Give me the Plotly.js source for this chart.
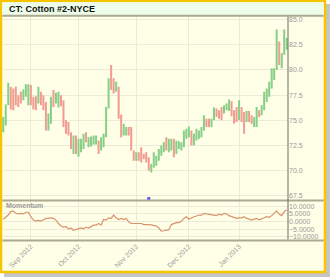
<!DOCTYPE html>
<html><head><meta charset="utf-8">
<script src="https://cdn.plot.ly/plotly-3.0.1.min.js"></script>
<style>html,body{margin:0;padding:0;background:#fff;}#chart{width:333px;height:280px;}</style>
</head><body><div id="chart"></div>
<script>
// Trading days per month
const aug2012 = [17,20,21,22,23,24,27,28,29,30,31];
const sep2012 = [4,5,6,7,10,11,12,13,14,17,18,19,20,21,24,25,26,27,28];
const oct2012 = [1,2,3,4,5,8,9,10,11,12,15,16,17,18,19,22,23,24,25,26,29,30,31];
const nov2012 = [1,2,5,6,7,8,9,12,13,14,15,16,19,20,21,23,26,27,28,29,30];
const dec2012 = [3,4,5,6,7,10,11,12,13,14,17,18,19,20,21,24,26,27,28,31];
const jan2013 = [2,3,4,7,8,9,10,11,14,15,16,17,18,22,23,24,25,28,29,30];

const openP = [73.9,74.7,76.6,78.2,78.0,78.2,77.4,77.7,77.1,77.5,76.8,78.3,77.2,77.3,76.8,77.7,77.4,76.7,74.2,74.8,
77.8,76.8,76.4,77.4,76.9,74.9,74.7,73.7,71.8,73.4,71.5,72.0,72.3,73.7,72.4,72.5,72.7,72.7,72.9,72.1,
72.4,73.5,76.3,80.3,79.0,77.9,78.2,75.4,73.6,73.6,74.2,74.2,71.9,71.1,71.7,72.2,71.6,71.7,71.2,69.9,
70.4,70.6,71.1,71.6,71.9,73.2,71.9,72.1,73.0,71.8,72.2,72.1,72.4,73.2,73.4,73.9,72.6,73.1,73.2,73.4,
74.1,75.1,75.1,74.4,75.1,76.1,75.9,76.2,75.7,76.1,76.0,76.8,75.9,76.2,75.1,76.2,75.7,74.9,75.8,75.4,
74.4,74.5,75.9,75.6,76.1,76.9,77.4,78.3,79.1,80.2,82.7,80.3,81.6,82.1];
const highP = [75.33,76.57,78.73,78.33,78.17,78.33,77.5,77.83,78.07,78.57,78.57,78.5,77.33,77.4,78.33,77.83,77.5,76.83,75.67,77.33,
78.0,77.73,77.83,77.5,77.0,75.0,74.83,73.83,73.5,73.5,73.17,73.17,73.67,73.83,73.33,73.4,73.5,73.5,73.0,73.33,
73.67,76.33,79.17,80.5,79.17,78.83,78.33,75.57,74.67,74.33,74.33,74.33,72.0,71.83,71.83,72.33,71.67,71.83,71.33,70.67,
71.83,71.5,72.17,72.5,72.83,73.33,73.17,73.17,73.17,73.0,72.93,72.83,74.0,74.17,74.4,74.0,73.67,74.17,74.0,74.33,
75.5,75.17,75.17,75.17,76.27,76.17,76.0,76.33,76.5,76.67,77.07,76.9,76.0,76.33,77.0,76.33,75.83,75.93,75.93,75.5,
75.33,76.33,76.0,76.5,77.83,78.17,78.83,80.17,80.17,84.0,82.83,81.67,84.0,83.17];
const lowP = [73.83,74.5,76.5,76.07,76.0,76.5,76.33,76.67,77.0,77.33,76.5,76.5,76.07,76.0,76.67,76.5,76.0,74.0,74.0,74.67,
76.33,76.67,76.27,76.4,74.33,73.67,73.5,72.17,71.67,71.67,71.4,71.83,72.17,72.83,72.33,72.4,72.6,72.6,71.67,72.0,
72.33,73.33,76.17,78.0,77.67,77.83,75.17,73.33,73.5,73.5,73.5,72.0,71.0,71.0,71.0,70.83,71.17,70.83,70.0,69.83,
70.33,70.5,71.0,71.5,71.83,72.0,71.83,72.0,71.33,71.67,72.17,72.0,72.33,73.17,73.33,72.5,72.5,73.0,73.17,73.33,
74.0,74.33,74.33,74.33,75.0,75.33,75.17,75.0,75.67,76.0,75.93,75.4,74.67,74.83,75.0,74.83,73.67,74.83,74.83,74.67,
74.33,74.33,75.33,75.5,76.0,76.83,77.33,78.17,79.0,80.0,80.5,80.17,81.5,82.0];
const closeP = [75.2,76.4,78.5,76.3,76.2,76.7,76.5,76.8,77.9,78.4,78.4,76.7,76.2,76.2,78.1,76.7,76.2,74.2,75.5,77.1,
76.5,77.6,77.6,76.5,74.5,73.8,73.6,72.3,73.3,71.8,73.0,73.0,73.5,72.9,73.2,73.3,73.4,73.4,71.8,73.2,
73.5,76.1,79.0,78.2,77.8,78.7,75.3,73.5,74.5,74.2,73.6,72.1,71.1,71.7,71.1,71.0,71.2,70.9,70.1,70.6,
71.7,71.4,72.0,72.4,72.7,72.1,73.0,73.0,71.5,72.9,72.8,72.7,73.9,74.0,74.3,72.6,73.5,74.0,73.9,74.2,
75.3,74.4,74.4,75.1,76.1,75.4,75.3,75.1,76.4,76.6,76.9,75.5,74.8,74.9,76.8,74.9,73.8,75.8,74.9,74.7,
75.2,76.1,75.4,76.4,77.7,78.0,78.7,80.0,80.0,83.8,80.6,81.5,83.8,83.0];
const momentum = [1.5,3.0,4.2,6.4,6.9,5.3,4.9,5.3,4.9,6.0,6.0,3.1,0.9,0.2,0.7,0.2,1.1,2.0,2.0,2.4,
2.0,0.9,-1.3,-2.9,-3.6,-3.3,-4.7,-4.2,-5.8,-5.3,-4.7,-4.2,-4.7,-3.6,-4.2,-3.1,-2.4,-2.4,-1.3,-2.4,
1.3,0.9,2.4,2.0,4.2,2.4,1.3,2.0,1.3,2.0,-0.2,-1.3,-1.3,-0.9,-0.9,-1.3,-2.0,-1.8,-2.0,-2.2,
-2.4,-3.0,-4.2,-6.2,-6.0,-5.8,-5.3,-2.0,-1.3,-0.7,-0.7,0.2,2.0,3.1,1.5,2.4,3.1,3.6,4.2,4.2,
5.3,4.9,4.7,4.2,4.2,3.8,4.7,4.2,5.3,4.9,3.8,3.1,2.4,2.0,2.4,2.4,3.1,2.0,1.5,0.9,
1.5,2.0,1.1,2.0,2.4,3.1,2.7,3.8,5.3,6.9,4.7,3.8,6.4,7.6];

const eventDates = ["2012-11-08"];
const eventValues = [67.25];

const tickDates = ["2012-09-04","2012-10-01","2012-11-01","2012-12-03","2013-01-02"];
const tickLabels = ["Sep 2012","Oct 2012","Nov 2012","Dec 2012","Jan 2013"];
const priceTicks = [67.5,70.0,72.5,75.0,77.5,80.0,82.5,85.0];
const momTicks = [-10,-5,0,5,10];

function pad(n){return (n<10?'0':'')+n;}
const dates = [];
[[2012,8,aug2012],[2012,9,sep2012],[2012,10,oct2012],[2012,11,nov2012],[2012,12,dec2012],[2013,1,jan2013]]
  .forEach(([y,m,days])=>days.forEach(d=>dates.push(y+'-'+pad(m)+'-'+pad(d))));

// layout helpers (pixel -> paper)
const L=2, R=288, T=16, B=240;
const px = x => (x-L)/(R-L);
const py = y => (B-y)/(B-T);

const traces = [
  {type:'ohlc', x:dates, open:openP, high:highP, low:lowP, close:closeP, xaxis:'x', yaxis:'y',
   increasing:{line:{color:'#86cf86', width:2}}, decreasing:{line:{color:'#f19b92', width:2}},
   tickwidth:0.15, hoverinfo:'skip'},
  {type:'scatter', mode:'markers', x:eventDates, y:eventValues, xaxis:'x', yaxis:'y',
   marker:{symbol:'square', size:3, color:'#5a5aff'}, hoverinfo:'skip'},
  {type:'scatter', mode:'lines', x:dates, y:momentum, xaxis:'x', yaxis:'y2',
   line:{color:'#d8936e', width:1.2}, hoverinfo:'skip'}
];

const gridC = '#ecebd9';
const tickFont = {family:'Liberation Sans, Arial, sans-serif', size:7, color:'#9a9a9a'};
const layout = {
  width:333, height:280,
  margin:{l:L, r:333-R, t:T, b:280-B, pad:0},
  paper_bgcolor:'#ffffff', plot_bgcolor:'rgba(0,0,0,0)',
  showlegend:false,
  xaxis:{type:'category', range:[-0.5, dates.length-0.5], anchor:'y2',
    tickvals:tickDates, ticktext:tickLabels, tickangle:-45, tickfont:tickFont,
    showgrid:true, gridcolor:gridC, gridwidth:1, zeroline:false, showline:false, ticks:'',
    rangeslider:{visible:false}, fixedrange:true},
  yaxis:{domain:[py(200),1], range:[67.1,85.35], side:'right', tickvals:priceTicks, tickformat:'.1f',
    tickfont:tickFont, showgrid:true, gridcolor:gridC, zeroline:false, ticks:'', ticklen:0, fixedrange:true},
  yaxis2:{domain:[0,py(201)], range:[-12,13.3], side:'right', tickvals:momTicks, tickformat:'.4f',
    tickfont:tickFont, showgrid:true, gridcolor:gridC, zeroline:false, ticks:'', fixedrange:true},
  shapes:[
    {type:'rect', xref:'paper', yref:'paper', x0:px(4), x1:px(330), y0:py(4), y1:py(277),
     fillcolor:'rgba(90,90,90,0.35)', line:{width:0}, layer:'below'},
    {type:'rect', xref:'paper', yref:'paper', x0:px(1), x1:px(325), y0:py(1), y1:py(272),
     fillcolor:'#fffee6', line:{color:'#f6c500', width:2.5}, layer:'below'},
    {type:'rect', xref:'paper', yref:'paper', x0:px(2.3), x1:px(323.7), y0:py(2.3), y1:py(15),
     fillcolor:'#eefde9', line:{width:0}, layer:'below'},
    {type:'line', xref:'paper', yref:'paper', x0:px(2.3), x1:px(323.7), y0:py(15.7), y1:py(15.7),
     line:{color:'#aba893', width:2}},
    {type:'line', xref:'paper', yref:'paper', x0:px(2.3), x1:px(323.7), y0:py(200.5), y1:py(200.5),
     line:{color:'#aba893', width:2}},
    {type:'line', xref:'paper', yref:'paper', x0:px(2.3), x1:px(323.7), y0:py(240.5), y1:py(240.5),
     line:{color:'#aba893', width:2}},
    {type:'line', xref:'paper', yref:'paper', x0:px(288), x1:px(288), y0:py(16.5), y1:py(239.5),
     line:{color:'#6a6a6a', width:1}}
  ],
  annotations:[
    {xref:'paper', yref:'paper', x:px(7), y:py(8.5), xanchor:'left', yanchor:'middle', showarrow:false,
     text:'<b>CT: Cotton #2-NYCE</b>', font:{family:'Liberation Sans, Arial, sans-serif', size:9, color:'#111'}},
    {xref:'paper', yref:'paper', x:px(4), y:py(205.5), xanchor:'left', yanchor:'middle', showarrow:false,
     text:'<b>Momentum</b>', font:{family:'Liberation Sans, Arial, sans-serif', size:7, color:'#9a9a9a'}}
  ]
};
Plotly.newPlot('chart', traces, layout, {staticPlot:true, displayModeBar:false});
</script></body></html>
